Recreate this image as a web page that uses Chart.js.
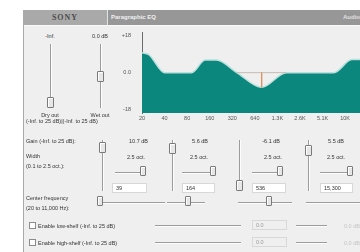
<!DOCTYPE html>
<html>
<head>
<meta charset="utf-8">
<script src="https://cdn.jsdelivr.net/npm/chart.js@4.4.0/dist/chart.umd.min.js"></script>
<style>
html,body{margin:0;padding:0;width:360px;height:252px;overflow:hidden;background:#fff;font-family:"Liberation Sans",Arial,sans-serif;position:relative;}
.t{position:absolute;font-size:5.5px;line-height:6px;color:#333;white-space:nowrap;}
.vtrack{position:absolute;width:1px;background:#9c9c9c;border-right:1px solid #fdfdfd;}
.htrack{position:absolute;height:1px;background:#9c9c9c;border-bottom:1px solid #fdfdfd;}
.thumb{position:absolute;background:#e6e6e6;border:1px solid #7a7a7a;border-radius:1px;box-sizing:border-box;box-shadow:inset 1px 1px 0 #fff;}
.box{position:absolute;height:10px;background:#fff;border:1px solid #d8d8d8;box-sizing:border-box;font-size:5.5px;line-height:8px;padding-left:3px;color:#333;white-space:nowrap;}
.chk{position:absolute;width:7px;height:7px;background:#fff;border:1px solid #8c8c8c;box-sizing:border-box;}
#wrap{position:absolute;left:118px;top:26px;width:262px;height:100px;}
</style>
</head>
<body>
<div style="position:absolute;left:23px;top:10px;width:337px;height:242px;background:#efefef;border-left:1px solid #a8a8a8;"></div>
<div style="position:absolute;left:24px;top:10px;width:336px;height:15px;background:#979797;"></div>
<div style="position:absolute;left:24px;top:10px;width:83px;height:15px;background:#a9a9a9;"></div>
<div style="position:absolute;left:107px;top:10px;width:1px;height:15px;background:#e2e2e2;"></div>
<div style="position:absolute;left:24px;top:25px;width:336px;height:1px;background:#fafafa;"></div>
<div class="t" style="left:40px;top:13px;width:50px;text-align:center;font:bold 8px 'Liberation Serif',serif;letter-spacing:1px;color:#4d4d4d;line-height:9px;">SONY</div>
<div class="t" style="left:111px;top:14px;font-size:6px;font-weight:bold;color:#f0f0f0;">Paragraphic EQ</div>
<div class="t" style="left:343px;top:14px;font-size:6px;font-weight:bold;color:#e0e0e0;">Audio</div>
<div id="wrap"><canvas id="eq" width="262" height="100"></canvas></div>
<div id="ui"></div>
<script>
// band settings shown in the dialog
var bandGain = ['10.7 dB', '5.6 dB', '-6.1 dB', '5.5 dB'];
var bandWidth = ['2.5 oct.', '2.5 oct.', '2.5 oct.', '2.5 oct.'];
var bandFreq = ['39', '164', '536', '15,300'];

// graph axis
var freqLabels = ['20', '40', '80', '160', '320', '640', '1.3K', '2.6K', '5.1K', '10K', '20K'];
var gainTicks = [-18, 0, 18];
var gainTickText = ['-18', '0.0', '+18'];

// response curve (x in label steps, dB)
var curveX = [0, 0.3, 1.0, 2.2, 2.8, 3.3, 4.2, 5.3, 6.4, 8.5, 9.3, 10.5];
var curveDb = [9.6, 8.7, 0, 0, 6.1, 6.1, 0, -7.1, 0, 0, 6.3, 6.3];

// band 3 marker (width and center)
var markX = [4.2, 6.4];
var markCenter = 5.3;
var markDb = -7.1;

var ui = document.getElementById('ui');
function txt(x, y, s, right, color) {
    var d = document.createElement('div');
    d.className = 't';
    d.textContent = s;
    d.style.top = y + 'px';
    if (right) { d.style.right = (360 - x) + 'px'; } else { d.style.left = x + 'px'; }
    if (color) d.style.color = color;
    ui.appendChild(d);
}
function ctr(x, y, s) {
    var d = document.createElement('div');
    d.className = 't';
    d.textContent = s;
    d.style.left = (x - 30) + 'px';
    d.style.width = '60px';
    d.style.textAlign = 'center';
    d.style.top = y + 'px';
    ui.appendChild(d);
}
function vslider(x, y1, y2, ty) {
    var tr = document.createElement('div');
    tr.className = 'vtrack';
    tr.style.left = x + 'px'; tr.style.top = y1 + 'px'; tr.style.height = (y2 - y1) + 'px';
    ui.appendChild(tr);
    var th = document.createElement('div');
    th.className = 'thumb';
    th.style.left = (x - 3) + 'px'; th.style.top = (ty - 5) + 'px';
    th.style.width = '7px'; th.style.height = '11px';
    ui.appendChild(th);
}
function hslider(x1, x2, y, tx) {
    var tr = document.createElement('div');
    tr.className = 'htrack';
    tr.style.left = x1 + 'px'; tr.style.top = y + 'px'; tr.style.width = (x2 - x1) + 'px';
    ui.appendChild(tr);
    if (tx == null) return;
    var th = document.createElement('div');
    th.className = 'thumb';
    th.style.left = (tx - 3) + 'px'; th.style.top = (y - 6) + 'px';
    th.style.width = '6px'; th.style.height = '10px';
    ui.appendChild(th);
}
function box(x1, x2, y, s, color) {
    var b = document.createElement('div');
    b.className = 'box';
    b.style.left = x1 + 'px'; b.style.top = y + 'px'; b.style.width = (x2 - x1) + 'px';
    b.textContent = s;
    if (color) { b.style.color = color; b.style.background = '#efefef'; }
    ui.appendChild(b);
}
function chk(x, y) {
    var c = document.createElement('div');
    c.className = 'chk';
    c.style.left = x + 'px'; c.style.top = y + 'px';
    ui.appendChild(c);
}

// dry / wet
ctr(50, 33, '-Inf.');
ctr(100, 33, '0.0 dB');
vslider(50, 44, 108, 102);
vslider(100, 44, 108, 76);
ctr(50, 112, 'Dry out');
ctr(100, 112, 'Wet out');
txt(26, 118, '(-Inf. to 25 dB)|(-Inf. to 25 dB)');

// row labels
txt(26, 138, 'Gain (-Inf. to 25 dB):');
txt(26, 153, 'Width');
txt(26, 163, '(0.1 to 2.5 oct.):');
txt(26, 195, 'Center frequency');
txt(26, 205, '(20 to 11,000 Hz):');

// bands
var vx = [102, 172, 239, 308];
var vthumb = [147, 148, 185, 150];
var gainRight = [148, 208, 280, 344];
var widthRight = [145, 208, 282, 345];
var wTrack = [[115, 145], [182, 215], [252, 283], [320, 352]];
var wThumb = [143, 213, 280, 350];
var fBox = [[112, 147], [182, 215], [252, 286], [320, 353]];
var cTrack = [[97, 165], [167, 205], [238, 292], [306, 362]];
var cThumb = [100, 188, 269, null];
for (var i = 0; i < 4; i++) {
    vslider(vx[i], 140, 191, vthumb[i]);
    txt(gainRight[i], 138, bandGain[i], true);
    txt(widthRight[i], 154, bandWidth[i], true);
    hslider(wTrack[i][0], wTrack[i][1], 172, wThumb[i]);
    box(fBox[i][0], fBox[i][1], 183, bandFreq[i]);
    hslider(cTrack[i][0], cTrack[i][1], 202, cThumb[i]);
}

// shelves
chk(29, 222);
txt(38, 223, 'Enable low-shelf (-Inf. to 25 dB)');
chk(29, 239);
txt(38, 240, 'Enable high-shelf (-Inf. to 25 dB)');
hslider(155, 241, 225, null);
hslider(155, 241, 242, null);
box(252, 287, 220, '0.0', '#9a9a9a');
box(252, 287, 237, '0.0', '#9a9a9a');
hslider(296, 327, 225, null);
hslider(296, 327, 242, null);
txt(344, 223, '0.0 dB', false, '#c4c4c4');
txt(344, 240, '0.0 dB', false, '#c4c4c4');

// graph
var curve = curveX.map(function (x, k) { return { x: x, y: curveDb[k] }; });
var ctx = document.getElementById('eq').getContext('2d');
var chart = new Chart(ctx, {
    type: 'line',
    data: {
        datasets: [{
            data: [{ x: markCenter, y: 0 }, { x: markCenter, y: markDb }],
            borderColor: '#e0925e',
            borderWidth: 1,
            pointRadius: 0,
            fill: false
        }, {
            data: [{ x: markX[0], y: 0 }, { x: markX[1], y: 0 }],
            borderColor: '#c8bcb2',
            borderWidth: 1,
            pointRadius: 0,
            fill: false
        }, {
            data: curve,
            borderColor: '#b9e0dc',
            borderWidth: 1.5,
            backgroundColor: '#0b877e',
            pointRadius: 0,
            cubicInterpolationMode: 'monotone',
            fill: 'start'
        }]
    },
    options: {
        responsive: false,
        animation: false,
        layout: { padding: { top: 4, right: 1, left: 0, bottom: 0 } },
        plugins: { legend: { display: false }, tooltip: { enabled: false } },
        scales: {
            x: {
                type: 'linear',
                min: 0,
                max: 10.5,
                afterBuildTicks: function (s) {
                    s.ticks = freqLabels.map(function (l, k) { return { value: k }; });
                },
                afterFit: function (s) { s.height = 13; },
                ticks: {
                    autoSkip: false,
                    maxRotation: 0,
                    padding: 2,
                    color: '#555',
                    font: { size: 5.5, family: 'Liberation Sans' },
                    callback: function (v) { return freqLabels[v]; }
                },
                grid: { display: false, drawTicks: false, tickLength: 0 },
                border: { display: false }
            },
            y: {
                min: -19.5,
                max: 19.5,
                afterBuildTicks: function (s) {
                    s.ticks = gainTicks.map(function (v) { return { value: v }; });
                },
                afterFit: function (s) { s.width = 24; },
                ticks: {
                    padding: 3,
                    color: '#555',
                    font: { size: 5.5, family: 'Liberation Sans' },
                    callback: function (v) { return gainTickText[gainTicks.indexOf(v)]; }
                },
                grid: { display: false },
                border: { display: true, color: '#6a6a6a', width: 1 }
            }
        }
    }
});
</script>
</body>
</html>
